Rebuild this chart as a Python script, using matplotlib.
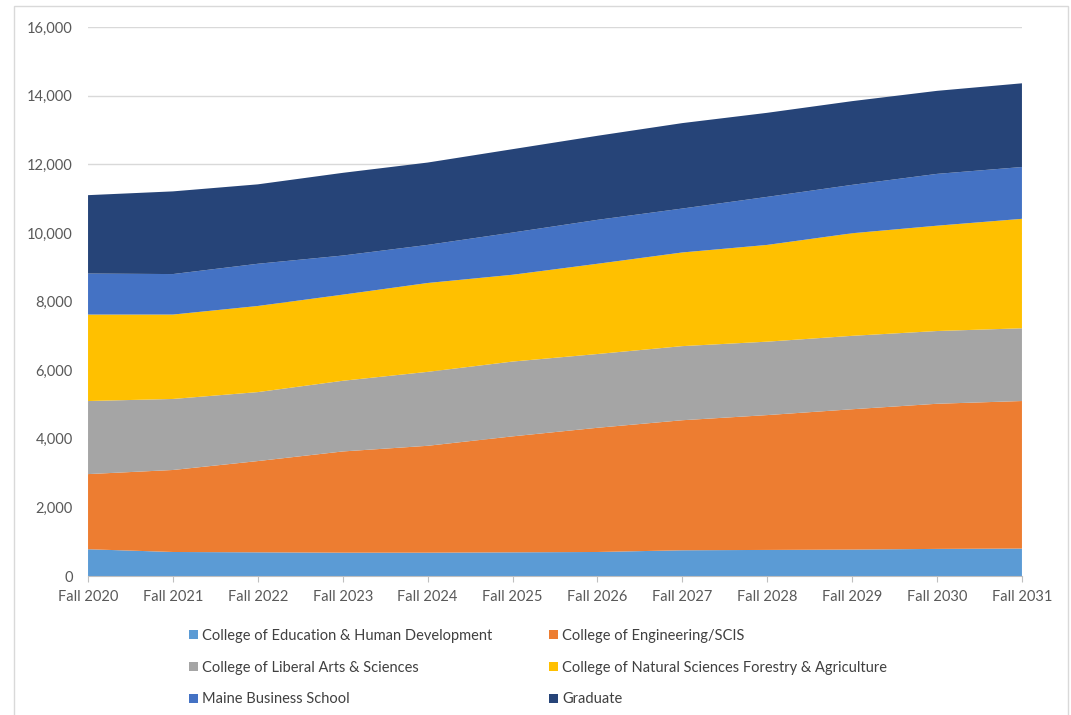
import numpy as np
import matplotlib.pyplot as plt
from matplotlib.patches import Rectangle

plt.rcParams['font.family'] = ['Lato', 'DejaVu Sans']

terms = ['Fall 2020', 'Fall 2021', 'Fall 2022', 'Fall 2023', 'Fall 2024', 'Fall 2025',
         'Fall 2026', 'Fall 2027', 'Fall 2028', 'Fall 2029', 'Fall 2030', 'Fall 2031']

education = [780, 700, 690, 680, 680, 690, 700, 750, 760, 770, 790, 800]
engineering = [2190, 2390, 2660, 2950, 3115, 3380, 3620, 3790, 3930, 4090, 4230, 4300]
liberal_arts = [2130, 2070, 2010, 2060, 2155, 2180, 2150, 2160, 2140, 2140, 2120, 2120]
natural_sci = [2520, 2460, 2510, 2510, 2590, 2530, 2630, 2730, 2820, 2990, 3070, 3190]
business = [1195, 1180, 1230, 1140, 1110, 1230, 1280, 1280, 1400, 1410, 1510, 1510]
graduate = [2285, 2410, 2315, 2410, 2400, 2430, 2450, 2490, 2450, 2440, 2420, 2440]

names = ['College of Education & Human Development', 'College of Engineering/SCIS',
         'College of Liberal Arts & Sciences', 'College of Natural Sciences Forestry & Agriculture',
         'Maine Business School', 'Graduate']
colors = ['#5B9BD5', '#ED7D31', '#A5A5A5', '#FFC000', '#4472C4', '#264478']

fig = plt.figure(figsize=(10.71, 7.15), dpi=100)
ax = fig.add_axes([0.0822, 0.1944, 0.872, 0.7678])

x = np.arange(len(terms))
polys = ax.stackplot(x, education, engineering, liberal_arts, natural_sci, business, graduate,
                     colors=colors, labels=names, zorder=2)

ax.set_xlim(0, len(terms) - 1)
ax.set_ylim(0, 16000)
ax.set_yticks(np.arange(0, 16001, 2000))
ax.set_yticklabels([f'{v:,}' for v in range(0, 16001, 2000)])
ax.set_xticks(x)
ax.set_xticklabels(terms)
ax.grid(axis='y', color='#d9d9d9', linewidth=1, zorder=0)
ax.set_axisbelow(True)

for s in ['top', 'right', 'left']:
    ax.spines[s].set_visible(False)
ax.spines['bottom'].set_color('#bfbfbf')
ax.tick_params(axis='y', length=0, pad=11, labelsize=10.5, labelcolor='#595959')
ax.tick_params(axis='x', length=4, color='#bfbfbf', pad=6, labelsize=10.5, labelcolor='#595959')

# legend rows go left-right, so reorder for column filling
order = [0, 2, 4, 1, 3, 5]
handles = [polys[i] for i in order]
labels = [names[i] for i in order]
fig.legend(handles, labels, ncol=2, loc='upper left', bbox_to_anchor=(0.164, 0.139),
           frameon=False, fontsize=10.5, labelcolor='#404040', handlelength=0.6,
           handleheight=0.6, handletextpad=0.3, labelspacing=1.22, columnspacing=3.9)

# thin outer frame, open at the bottom edge
fig.patches.append(Rectangle((14 / 1071, -0.01), 1054 / 1071, 1 - 6 / 715 + 0.01,
                             transform=fig.transFigure, fill=False,
                             edgecolor='#d9d9d9', linewidth=1))

fig.savefig('out.png', dpi=100)
